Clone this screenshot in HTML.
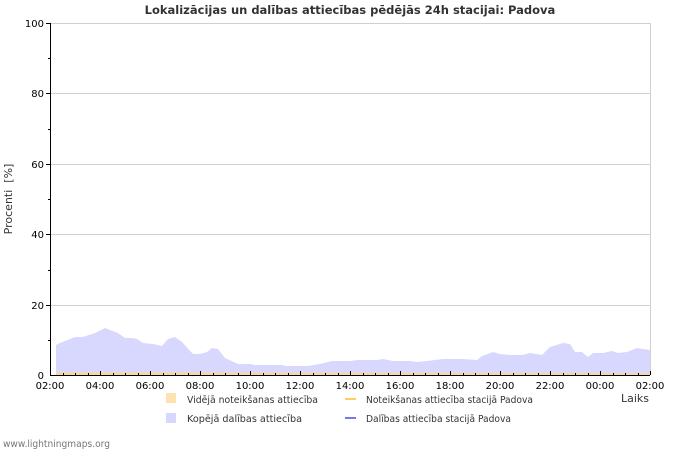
<!DOCTYPE html>
<html><head><meta charset="utf-8"><style>
body{margin:0;background:#fff;}
svg{display:block;font-family:"DejaVu Sans","Liberation Sans",sans-serif;}
</style></head><body>
<svg width="700" height="450" viewBox="0 0 700 450" xmlns="http://www.w3.org/2000/svg">
<rect width="700" height="450" fill="#fff"/>
<text x="350" y="14" text-anchor="middle" font-size="11.5" font-weight="bold" fill="#333">Lokalizācijas un dalības attiecības pēdējās 24h stacijai: Padova</text>
<g stroke="#d0d0d0" stroke-width="1">
<line x1="50" y1="23.5" x2="650" y2="23.5"/>
<line x1="50" y1="93.5" x2="650" y2="93.5"/>
<line x1="50" y1="164.5" x2="650" y2="164.5"/>
<line x1="50" y1="234.5" x2="650" y2="234.5"/>
<line x1="50" y1="305.5" x2="650" y2="305.5"/>
<line x1="650.5" y1="23" x2="650.5" y2="375"/>
</g>
<polygon fill="#d8d8ff" points="56,375 56,345 60,343 75,337 83,337 95,333 105,328 118,333 125,338 132,338 137,339 143,343 153,344 162,346 168,339 175,337 182,342 193,354 200,354 207,352 212,348 218,349 225,358 238,364 252,364 253,365 282,365 285,366 308,366 320,364 332,361 343,361 350,361 357,360 377,360 383,359 393,361 410,361 417,362 427,361 443,359 463,359 477,360 482,356 493,352 500,354 510,355 522,355 530,353 542,355 550,347 563,343 570,344 575,352 582,352 588,357 593,353 603,353 612,351 618,353 627,352 637,348 643,349 650,350 650,375"/>
<polygon fill="#f5d9a8" points="56,375 56,372 650,373 650,375"/>
<line x1="50.5" y1="23" x2="50.5" y2="376" stroke="#000" stroke-width="1"/>
<line x1="50" y1="375.5" x2="650" y2="375.5" stroke="#000" stroke-width="1"/>
<g stroke="#000" stroke-width="1">
<line x1="46" y1="23.5" x2="50" y2="23.5"/><line x1="46" y1="93.5" x2="50" y2="93.5"/><line x1="46" y1="164.5" x2="50" y2="164.5"/><line x1="46" y1="234.5" x2="50" y2="234.5"/><line x1="46" y1="305.5" x2="50" y2="305.5"/>
<line x1="48" y1="58.5" x2="50" y2="58.5"/><line x1="48" y1="129.5" x2="50" y2="129.5"/><line x1="48" y1="199.5" x2="50" y2="199.5"/><line x1="48" y1="270.5" x2="50" y2="270.5"/><line x1="48" y1="340.5" x2="50" y2="340.5"/>
</g>
<g font-size="10" fill="#000" text-anchor="end">
<text x="44" y="27">100</text><text x="44" y="97">80</text><text x="44" y="168">60</text><text x="44" y="238">40</text><text x="44" y="309">20</text><text x="44" y="379">0</text>
</g>
<text transform="translate(12,199) rotate(-90)" text-anchor="middle" font-size="11" fill="#333" xml:space="preserve">Procenti  [%]</text>
<g font-size="10" fill="#000" text-anchor="middle">
<text x="50" y="389">02:00</text><text x="100" y="389">04:00</text><text x="150" y="389">06:00</text><text x="200" y="389">08:00</text><text x="250" y="389">10:00</text><text x="300" y="389">12:00</text><text x="350" y="389">14:00</text><text x="400" y="389">16:00</text><text x="450" y="389">18:00</text><text x="500" y="389">20:00</text><text x="550" y="389">22:00</text><text x="600" y="389">00:00</text><text x="650" y="389">02:00</text>
</g>
<text x="621" y="402" font-size="11" fill="#333">Laiks</text>
<rect x="166" y="393" width="10" height="10" fill="#fde3b0"/>
<text x="187" y="403" font-size="9.5" fill="#333" textLength="131" lengthAdjust="spacingAndGlyphs">Vidējā noteikšanas attiecība</text>
<rect x="166" y="413" width="10" height="10" fill="#d8d8ff"/>
<text x="187" y="422" font-size="9.5" fill="#333" textLength="115" lengthAdjust="spacingAndGlyphs">Kopējā dalības attiecība</text>
<line x1="345" y1="399" x2="356" y2="399" stroke="#ffcc66" stroke-width="2"/>
<text x="366" y="403" font-size="9.5" fill="#333" textLength="167" lengthAdjust="spacingAndGlyphs">Noteikšanas attiecība stacijā Padova</text>
<line x1="345" y1="418" x2="356" y2="418" stroke="#7777ee" stroke-width="2"/>
<text x="366" y="422" font-size="9.5" fill="#333" textLength="145" lengthAdjust="spacingAndGlyphs">Dalības attiecība stacijā Padova</text>
<text x="3" y="447" font-size="9.5" fill="#777" textLength="107" lengthAdjust="spacingAndGlyphs">www.lightningmaps.org</text>
<g stroke="#000" stroke-width="1">
<line x1="50.5" y1="371" x2="50.5" y2="375"/><line x1="63.5" y1="373" x2="63.5" y2="375"/><line x1="75.5" y1="373" x2="75.5" y2="375"/><line x1="88.5" y1="373" x2="88.5" y2="375"/><line x1="100.5" y1="371" x2="100.5" y2="375"/><line x1="113.5" y1="373" x2="113.5" y2="375"/><line x1="125.5" y1="373" x2="125.5" y2="375"/><line x1="138.5" y1="373" x2="138.5" y2="375"/><line x1="150.5" y1="371" x2="150.5" y2="375"/><line x1="163.5" y1="373" x2="163.5" y2="375"/><line x1="175.5" y1="373" x2="175.5" y2="375"/><line x1="188.5" y1="373" x2="188.5" y2="375"/><line x1="200.5" y1="371" x2="200.5" y2="375"/><line x1="213.5" y1="373" x2="213.5" y2="375"/><line x1="225.5" y1="373" x2="225.5" y2="375"/><line x1="238.5" y1="373" x2="238.5" y2="375"/><line x1="250.5" y1="371" x2="250.5" y2="375"/><line x1="263.5" y1="373" x2="263.5" y2="375"/><line x1="275.5" y1="373" x2="275.5" y2="375"/><line x1="288.5" y1="373" x2="288.5" y2="375"/><line x1="300.5" y1="371" x2="300.5" y2="375"/><line x1="313.5" y1="373" x2="313.5" y2="375"/><line x1="325.5" y1="373" x2="325.5" y2="375"/><line x1="338.5" y1="373" x2="338.5" y2="375"/><line x1="350.5" y1="371" x2="350.5" y2="375"/><line x1="363.5" y1="373" x2="363.5" y2="375"/><line x1="375.5" y1="373" x2="375.5" y2="375"/><line x1="388.5" y1="373" x2="388.5" y2="375"/><line x1="400.5" y1="371" x2="400.5" y2="375"/><line x1="413.5" y1="373" x2="413.5" y2="375"/><line x1="425.5" y1="373" x2="425.5" y2="375"/><line x1="438.5" y1="373" x2="438.5" y2="375"/><line x1="450.5" y1="371" x2="450.5" y2="375"/><line x1="463.5" y1="373" x2="463.5" y2="375"/><line x1="475.5" y1="373" x2="475.5" y2="375"/><line x1="488.5" y1="373" x2="488.5" y2="375"/><line x1="500.5" y1="371" x2="500.5" y2="375"/><line x1="513.5" y1="373" x2="513.5" y2="375"/><line x1="525.5" y1="373" x2="525.5" y2="375"/><line x1="538.5" y1="373" x2="538.5" y2="375"/><line x1="550.5" y1="371" x2="550.5" y2="375"/><line x1="563.5" y1="373" x2="563.5" y2="375"/><line x1="575.5" y1="373" x2="575.5" y2="375"/><line x1="588.5" y1="373" x2="588.5" y2="375"/><line x1="600.5" y1="371" x2="600.5" y2="375"/><line x1="613.5" y1="373" x2="613.5" y2="375"/><line x1="625.5" y1="373" x2="625.5" y2="375"/><line x1="638.5" y1="373" x2="638.5" y2="375"/><line x1="650.5" y1="371" x2="650.5" y2="375"/>
</g>
</svg>
</body></html>
